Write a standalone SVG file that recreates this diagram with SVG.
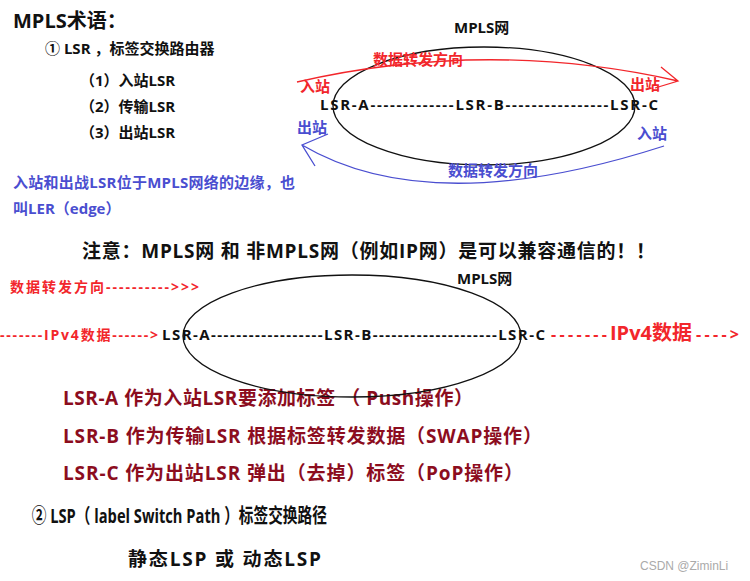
<svg xmlns="http://www.w3.org/2000/svg" width="750" height="581" viewBox="0 0 750 581">
<style>
text{font-family:"Open Sans","Noto Sans CJK SC",sans-serif;font-weight:bold;}
.k{fill:#111;}
.r{fill:#f2262b;}
.b{fill:#4a4ed0;}
.m{fill:#8c0d1e;}
.g{fill:#aaa;font-weight:normal;font-family:"Liberation Sans",sans-serif;}
.ell{fill:none;stroke:#111;stroke-width:1.3;}
.rl{fill:none;stroke:#f2262b;stroke-width:1.3;}
.bl{fill:none;stroke:#4a4ed0;stroke-width:1.3;}
</style>
<rect width="750" height="581" fill="#fff"/>
<g id="terms">
<text class="k" x="13" y="28" font-size="20">MPLS术语：</text>
<text class="k" x="45" y="54" font-size="15">① LSR ，标签交换路由器</text>
<text class="k" x="80" y="86" font-size="15">（1）入站LSR</text>
<text class="k" x="80" y="112" font-size="15">（2）传输LSR</text>
<text class="k" x="80" y="138" font-size="15">（3）出站LSR</text>
<text class="b" x="13" y="188" font-size="15" textLength="282">入站和出战LSR位于MPLS网络的边缘，也</text>
<text class="b" x="13" y="214" font-size="15">叫LER（edge）</text>
</g>
<g id="net1">
<ellipse class="ell" cx="484" cy="106" rx="151" ry="59"/>
<text class="k" x="454" y="33" font-size="15">MPLS网</text>
<text class="k" x="320" y="110" font-size="15" textLength="338">LSR-A-------------LSR-B----------------LSR-C</text>
</g>
<g id="connectors">
<path class="rl" d="M297,82 Q488,38 678,81 M661,67 L678,81 L655,88"/>
<path class="bl" d="M664,146 Q431,221 302,145 M328,134 L302,145 L315,166"/>
</g>
<g id="labels1">
<text class="r" x="300" y="92" font-size="15">入站</text>
<text class="r" x="630" y="90" font-size="15">出站</text>
<text class="r" x="373" y="65" font-size="15">数据转发方向</text>
<text class="b" x="297" y="133" font-size="15">出站</text>
<text class="b" x="637" y="139" font-size="15">入站</text>
<text class="b" x="448" y="176" font-size="15">数据转发方向</text>
</g>
<g id="note">
<text class="k" x="82" y="258" font-size="19" textLength="573">注意：MPLS网 和 非MPLS网（例如IP网）是可以兼容通信的！！</text>
</g>
<g id="net2">
<text class="k" x="457" y="284" font-size="15">MPLS网</text>
<text class="r" x="10" y="292" font-size="14" textLength="189">数据转发方向---------->>></text>
<text class="r" x="0" y="340" font-size="14" textLength="158">-------IPv4数据------></text>
<text class="k" x="162" y="340" font-size="15" textLength="383">LSR-A------------------LSR-B--------------------LSR-C</text>
<text class="r" y="340" font-size="16"><tspan x="551" textLength="56">-------</tspan><tspan x="610" font-size="20">IPv4数据</tspan><tspan x="696" textLength="43">----></tspan></text>
</g>
<g id="ops">
<text class="m" x="63" y="405" font-size="19" textLength="410">LSR-A 作为入站LSR要添加标签 （ Push操作）</text>
<text class="m" x="63" y="443" font-size="19" textLength="479">LSR-B 作为传输LSR 根据标签转发数据（SWAP操作）</text>
<text class="m" x="63" y="480" font-size="19" textLength="460">LSR-C 作为出站LSR 弹出（去掉）标签（PoP操作）</text>
</g>
<ellipse class="ell" cx="352" cy="336" rx="169" ry="61"/>
<g id="lsp">
<text class="k" x="45" y="523" font-size="20" textLength="418" lengthAdjust="spacingAndGlyphs" transform="scale(0.706,1)">② LSP（ label Switch  Path ）标签交换路径</text>
<text class="k" x="128" y="566" font-size="19" textLength="193">静态LSP 或 动态LSP</text>
<text class="g" x="640" y="570" font-size="12">CSDN @ZiminLi</text>
</g>
</svg>
